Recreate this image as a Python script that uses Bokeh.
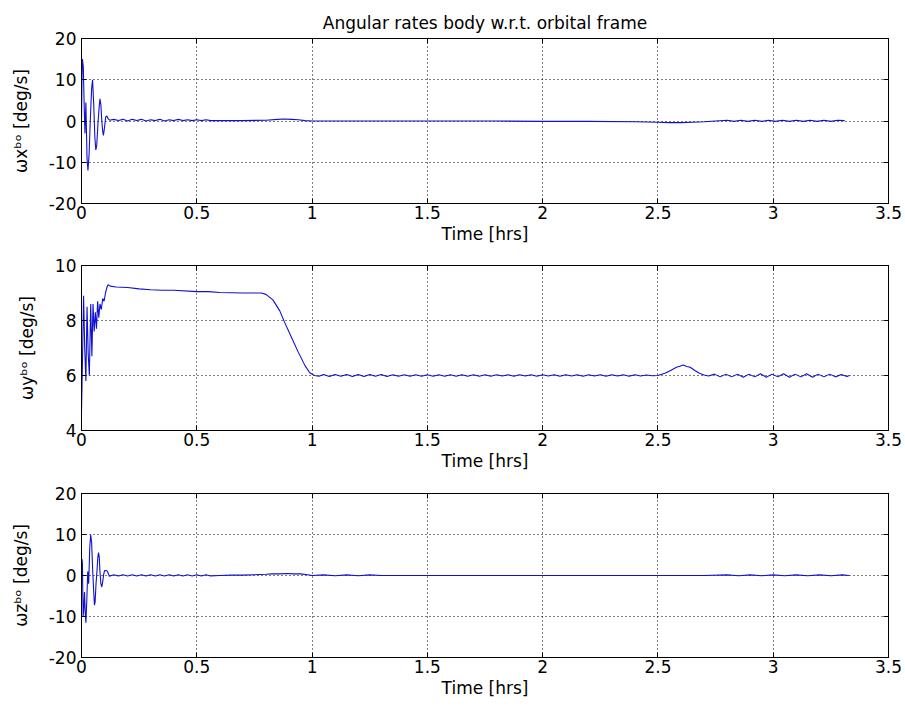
from bokeh.plotting import figure
from bokeh.models import Range1d, FixedTicker, LinearAxis
from bokeh.layouts import column
from bokeh.embed import file_html
from bokeh.resources import INLINE

# ---------------- data ----------------
TITLE = "Angular rates body w.r.t. orbital frame"
XLABEL = "Time [hrs]"
X_TICKS = [0, 0.5, 1, 1.5, 2, 2.5, 3, 3.5]
X_TICK_LABELS = ["0", "0.5", "1", "1.5", "2", "2.5", "3", "3.5"]

# omega x (body wrt orbital)
WX_T = [0.0, 0.002, 0.004, 0.008, 0.011, 0.015, 0.019, 0.024, 0.028, 0.033, 0.038, 0.044,
        0.048, 0.053, 0.058, 0.062, 0.066, 0.071, 0.076, 0.080, 0.084, 0.088, 0.092, 0.095,
        0.100, 0.105, 0.110, 0.116, 0.122,
        0.14, 0.16, 0.18, 0.20, 0.22, 0.24, 0.26, 0.28, 0.30, 0.32, 0.34, 0.36, 0.38, 0.40,
        0.42, 0.44, 0.46, 0.48, 0.50, 0.52, 0.54, 0.56,
        0.60, 0.70, 0.80, 0.85, 0.88, 0.91, 0.94, 0.97, 1.00,
        1.20, 1.40, 1.60, 1.80, 2.00, 2.20, 2.40,
        2.50, 2.55, 2.60, 2.65, 2.70, 2.75,
        2.80, 2.83, 2.86, 2.89, 2.92, 2.95, 2.98, 3.01, 3.04, 3.07, 3.10, 3.13, 3.16, 3.19,
        3.22, 3.25, 3.28, 3.31, 3.33]
WX_V = [0.0, 10.0, 15.0, 13.0, 5.0, -3.0, 4.5, -9.0, -12.0, -8.0, 0.0, 8.0,
        10.0, 4.0, -4.0, -7.0, -6.0, -1.0, 3.0, 5.4, 4.0, 0.0, -2.5, -3.5,
        -1.5, 1.0, 1.2, 0.5, 0.2,
        0.4, 0.1, 0.4, 0.0, 0.4, 0.1, 0.4, 0.0, 0.3, 0.1, 0.4, 0.0, 0.3, 0.1,
        0.4, 0.1, 0.3, 0.1, 0.3, 0.1, 0.3, 0.1,
        0.1, 0.1, 0.2, 0.4, 0.5, 0.4, 0.3, 0.1, 0.0,
        0.0, 0.0, 0.0, 0.0, -0.1, -0.1, -0.2,
        -0.3, -0.4, -0.4, -0.3, -0.2, 0.0,
        0.2, -0.1, 0.2, -0.1, 0.2, -0.1, 0.2, -0.1, 0.2, -0.1, 0.2, -0.1, 0.2,
        -0.1, 0.2, -0.1, 0.2, 0.1]

# omega y
WY_T = [0.0, 0.004, 0.009, 0.014, 0.019, 0.024, 0.029, 0.034, 0.040, 0.045, 0.050, 0.055,
        0.060, 0.065, 0.070, 0.075, 0.080, 0.086, 0.092, 0.098, 0.104, 0.110, 0.115, 0.125,
        0.15, 0.20, 0.25, 0.30, 0.35, 0.40, 0.50, 0.55, 0.60, 0.70, 0.78, 0.80, 0.83, 0.86,
        0.88, 0.91, 0.94, 0.97, 0.99, 1.01, 1.03,
        1.05, 1.075, 1.10, 1.125, 1.15, 1.175, 1.20, 1.225, 1.25, 1.275, 1.30, 1.325,
        1.35, 1.375, 1.40, 1.425, 1.45, 1.475, 1.50, 1.525, 1.55, 1.575, 1.60, 1.625,
        1.65, 1.675, 1.70, 1.725, 1.75, 1.775, 1.80, 1.825, 1.85, 1.875, 1.90, 1.925,
        1.95, 1.975, 2.00, 2.025, 2.05, 2.075, 2.10, 2.125, 2.15, 2.175, 2.20, 2.225,
        2.25, 2.275, 2.30, 2.325, 2.35, 2.375, 2.40, 2.425, 2.45, 2.475,
        2.50, 2.53, 2.555, 2.58, 2.595, 2.61, 2.625, 2.64, 2.66, 2.68, 2.70, 2.72,
        2.745, 2.77, 2.795, 2.82, 2.845, 2.87, 2.895, 2.92, 2.945, 2.97, 2.995, 3.02,
        3.045, 3.07, 3.095, 3.12, 3.145, 3.17, 3.195, 3.22, 3.245, 3.27, 3.295, 3.32, 3.33]
WY_V = [4.7, 6.4, 8.9, 7.0, 5.8, 8.5, 6.8, 6.0, 8.6, 6.7, 8.6, 7.6,
        8.3, 7.7, 8.7, 8.1, 8.6, 8.4, 8.8, 8.7, 9.0, 9.2, 9.3, 9.25,
        9.22, 9.2, 9.15, 9.12, 9.1, 9.1, 9.05, 9.05, 9.02, 9.0, 9.0, 8.95, 8.75, 8.35,
        7.95, 7.4, 6.85, 6.35, 6.1, 6.0, 5.97,
        6.04, 5.96, 6.04, 5.97, 6.04, 5.96, 6.04, 5.96, 6.04, 5.97, 6.04, 5.96,
        6.03, 5.97, 6.03, 5.97, 6.03, 5.97, 6.03, 5.97, 6.03, 5.97, 6.03, 5.97,
        6.03, 5.97, 6.03, 5.97, 6.03, 5.97, 6.03, 5.98, 6.03, 5.97, 6.03, 5.98,
        6.03, 5.97, 6.03, 5.98, 6.03, 5.97, 6.03, 5.98, 6.03, 5.97, 6.03, 5.98,
        6.03, 5.97, 6.03, 5.98, 6.03, 5.97, 6.03, 5.98, 6.02, 5.99,
        6.0, 6.08, 6.18, 6.3, 6.34, 6.38, 6.33, 6.3, 6.18, 6.08, 6.02, 5.98,
        6.05, 5.95, 6.05, 5.95, 6.05, 5.94, 6.05, 5.95, 6.06, 5.94, 6.05, 5.95,
        6.06, 5.94, 6.05, 5.95, 6.06, 5.94, 6.05, 5.95, 6.05, 5.95, 6.04, 5.96, 6.0]

# omega z
WZ_T = [0.0, 0.002, 0.004, 0.007, 0.010, 0.013, 0.016, 0.019, 0.023, 0.027, 0.031, 0.036,
        0.040, 0.044, 0.048, 0.052, 0.056, 0.059, 0.063, 0.067, 0.071, 0.074, 0.077, 0.080,
        0.084, 0.088, 0.092, 0.096, 0.100, 0.103, 0.108, 0.113, 0.117, 0.121,
        0.14, 0.16, 0.18, 0.20, 0.22, 0.24, 0.26, 0.28, 0.30, 0.32, 0.34, 0.36, 0.38, 0.40,
        0.42, 0.44, 0.46, 0.48, 0.50, 0.52, 0.54, 0.56,
        0.60, 0.65, 0.70, 0.75, 0.80, 0.83, 0.86, 0.89, 0.92, 0.95, 0.98,
        1.00, 1.05, 1.10, 1.15, 1.20, 1.25, 1.30, 1.50, 1.80, 2.10, 2.40, 2.70,
        2.80, 2.85, 2.90, 2.95, 3.00, 3.05, 3.10, 3.15, 3.20, 3.25, 3.30, 3.33]
WZ_V = [0.0, 4.0, 3.0, -10.0, -8.0, -4.0, -9.0, -11.5, -6.0, 1.0, -2.0, 7.0,
        10.0, 8.0, 2.0, -3.0, -7.2, -6.5, -2.0, 1.0, 4.5, 5.6, 4.5, 1.0,
        -2.0, -2.8, -1.5, 0.2, 1.2, 1.2, 1.2, 1.0, 0.3, -0.2,
        0.2, -0.1, 0.2, -0.1, 0.2, -0.1, 0.2, -0.1, 0.2, -0.1, 0.2, -0.1, 0.2, -0.1,
        0.2, -0.1, 0.2, -0.1, 0.2, -0.1, 0.2, -0.1,
        0.0, 0.1, 0.1, 0.2, 0.3, 0.4, 0.4, 0.5, 0.4, 0.4, 0.2,
        0.0, 0.15, -0.05, 0.15, -0.05, 0.15, 0.0, 0.0, 0.0, 0.0, 0.0, 0.0,
        0.15, -0.05, 0.15, -0.05, 0.15, -0.05, 0.15, -0.05, 0.15, -0.05, 0.15, 0.0]

Y1_TICKS = [-20, -10, 0, 10, 20]
Y1_LABELS = ["-20", "-10", "0", "10", "20"]
Y2_TICKS = [4, 6, 8, 10]
Y2_LABELS = ["4", "6", "8", "10"]
Y3_TICKS = [-20, -10, 0, 10, 20]
Y3_LABELS = ["-20", "-10", "0", "10", "20"]

YLABELS = ["\u03c9x\u1d47\u1d52 [deg/s]", "\u03c9y\u1d47\u1d52 [deg/s]", "\u03c9z\u1d47\u1d52 [deg/s]"]

# ---------------- styling ----------------
FONT = "DejaVu Sans"
FS = "17px"
LINE_COLOR = "#1010d0"


def make_panel(t, v, yr, yticks, ylabels, ylabel, frame_h, top, bottom, title=None):
    p = figure(frame_width=807, frame_height=frame_h,
               x_range=Range1d(0, 3.5), y_range=Range1d(yr[0], yr[1]),
               output_backend="svg", toolbar_location=None,
               min_border_left=81, min_border_right=14,
               min_border_top=top, min_border_bottom=bottom,
               title=title)
    p.background_fill_color = "white"
    p.border_fill_color = "white"
    p.outline_line_color = "black"
    p.outline_line_width = 1

    if title:
        p.title.text_font = FONT
        p.title.text_font_size = FS
        p.title.text_font_style = "normal"
        p.title.align = "center"
        p.title.text_color = "black"
        p.title.standoff = 12

    xt = FixedTicker(ticks=X_TICKS)
    yt = FixedTicker(ticks=yticks)

    p.xaxis.ticker = xt
    p.xaxis.major_label_overrides = dict(zip(X_TICKS, X_TICK_LABELS))
    p.xaxis.axis_label = XLABEL
    p.xaxis.axis_label_standoff = 2
    p.xaxis.major_label_standoff = 2

    p.yaxis.ticker = yt
    p.yaxis.major_label_overrides = dict(zip(yticks, ylabels))
    p.yaxis.axis_label = ylabel
    p.yaxis.axis_label_standoff = 15
    p.yaxis.major_label_standoff = 5

    top_ax = LinearAxis(ticker=xt, major_label_standoff=0)
    right_ax = LinearAxis(ticker=yt, major_label_standoff=0)
    p.add_layout(top_ax, "above")
    p.add_layout(right_ax, "right")

    for ax in p.axis:
        ax.major_tick_in = 5
        ax.major_tick_out = 0
        ax.minor_tick_line_color = None
        ax.axis_line_color = "black"
        ax.major_tick_line_color = "black"
        ax.major_label_text_font = FONT
        ax.major_label_text_font_size = FS
        ax.major_label_text_color = "black"
        ax.axis_label_text_font = FONT
        ax.axis_label_text_font_size = FS
        ax.axis_label_text_font_style = "normal"
        ax.axis_label_text_color = "black"

    for ax in (top_ax, right_ax):
        ax.major_label_text_font_size = "1px"
        ax.major_label_text_alpha = 0
        ax.major_label_text_color = None

    p.xgrid.ticker = xt
    p.ygrid.ticker = yt
    for g in (p.xgrid, p.ygrid):
        g.grid_line_color = "black"
        g.grid_line_dash = "1 3"
        g.grid_line_alpha = 1.0

    p.line(t, v, line_color=LINE_COLOR, line_width=1.1)
    return p


p1 = make_panel(WX_T, WX_V, (-20, 20), Y1_TICKS, Y1_LABELS, YLABELS[0], 165, 38, 45, title=TITLE)
p2 = make_panel(WY_T, WY_V, (4, 10), Y2_TICKS, Y2_LABELS, YLABELS[1], 165, 17, 48)
p3 = make_panel(WZ_T, WZ_V, (-20, 20), Y3_TICKS, Y3_LABELS, YLABELS[2], 164, 15, 45)

layout = column(p1, p2, p3, spacing=0)

open("out.html", "w").write(file_html(layout, INLINE))
